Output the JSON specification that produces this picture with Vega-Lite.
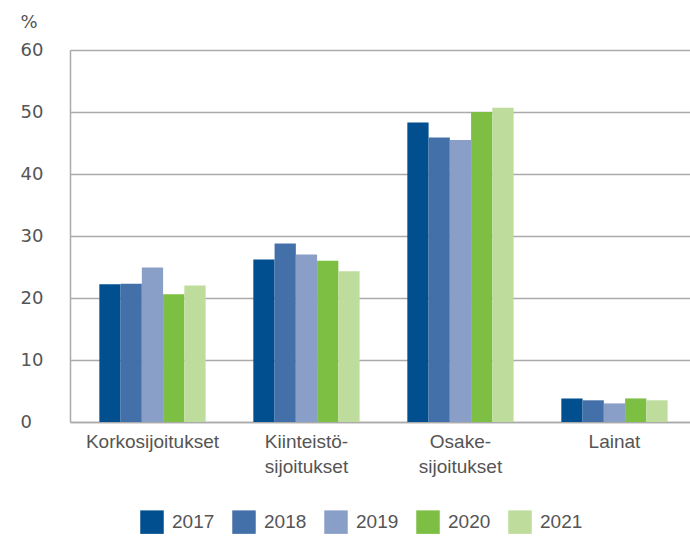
{
  "$schema": "https://vega.github.io/schema/vega-lite/v6.json",
  "autosize": {"type": "none"},
  "width": 620,
  "height": 372,
  "padding": {"left": 70, "top": 50, "right": 0, "bottom": 114},
  "background": "white",
  "data": {
    "values": [
      {"cat": "Korkosijoitukset", "year": "2017", "value": 22.2},
      {"cat": "Korkosijoitukset", "year": "2018", "value": 22.3},
      {"cat": "Korkosijoitukset", "year": "2019", "value": 24.9},
      {"cat": "Korkosijoitukset", "year": "2020", "value": 20.6},
      {"cat": "Korkosijoitukset", "year": "2021", "value": 22.0},
      {"cat": "Kiinteistö-sijoitukset", "year": "2017", "value": 26.2},
      {"cat": "Kiinteistö-sijoitukset", "year": "2018", "value": 28.8},
      {"cat": "Kiinteistö-sijoitukset", "year": "2019", "value": 27.0},
      {"cat": "Kiinteistö-sijoitukset", "year": "2020", "value": 26.0},
      {"cat": "Kiinteistö-sijoitukset", "year": "2021", "value": 24.3},
      {"cat": "Osake-sijoitukset", "year": "2017", "value": 48.3},
      {"cat": "Osake-sijoitukset", "year": "2018", "value": 45.9},
      {"cat": "Osake-sijoitukset", "year": "2019", "value": 45.5},
      {"cat": "Osake-sijoitukset", "year": "2020", "value": 50.0},
      {"cat": "Osake-sijoitukset", "year": "2021", "value": 50.7},
      {"cat": "Lainat", "year": "2017", "value": 3.8},
      {"cat": "Lainat", "year": "2018", "value": 3.5},
      {"cat": "Lainat", "year": "2019", "value": 3.0},
      {"cat": "Lainat", "year": "2020", "value": 3.8},
      {"cat": "Lainat", "year": "2021", "value": 3.5}
    ]
  },
  "mark": {"type": "bar"},
  "encoding": {
    "x": {
      "field": "cat",
      "type": "nominal",
      "sort": null,
      "scale": {"paddingInner": 0.31, "paddingOuter": 0.168, "align": 0.567},
      "axis": {
        "title": null,
        "labelAngle": 0,
        "ticks": false,
        "tickSize": 0,
        "labelPadding": 10,
        "labelBaseline": "top",
        "labelFont": "Liberation Sans",
        "labelFontSize": 19,
        "labelColor": "#555555",
        "labelLineHeight": 25,
        "labelLimit": 300,
        "labelExpr": "indexof(datum.value, '-') > 0 ? [slice(datum.value, 0, indexof(datum.value, '-') + 1), slice(datum.value, indexof(datum.value, '-') + 1)] : datum.value",
        "domainColor": "#aaaaaa",
        "domainWidth": 1.5,
        "grid": false
      }
    },
    "xOffset": {
      "field": "year",
      "type": "nominal",
      "scale": {"paddingInner": 0, "paddingOuter": 0}
    },
    "y": {
      "field": "value",
      "type": "quantitative",
      "scale": {"domain": [0, 60]},
      "axis": {
        "title": "%",
        "titleAngle": 0,
        "titleX": -50,
        "titleY": -23,
        "titleAlign": "left",
        "titleBaseline": "alphabetic",
        "titleFont": "DejaVu Sans",
        "titleFontSize": 18,
        "titleFontWeight": "normal",
        "titleColor": "#555555",
        "values": [0, 10, 20, 30, 40, 50, 60],
        "ticks": false,
        "tickSize": 0,
        "labelAlign": "left",
        "labelPadding": 50,
        "labelFont": "DejaVu Sans",
        "labelFontSize": 18,
        "labelColor": "#555555",
        "domainColor": "#aaaaaa",
        "domainWidth": 1.5,
        "gridColor": "#aaaaaa",
        "gridWidth": 1.5
      }
    },
    "color": {
      "field": "year",
      "type": "nominal",
      "scale": {
        "domain": ["2017", "2018", "2019", "2020", "2021"],
        "range": ["#014f8f", "#4470aa", "#8a9fc8", "#7cbf42", "#bedc9b"]
      },
      "legend": {
        "title": null,
        "orient": "none",
        "direction": "horizontal",
        "legendX": 70,
        "legendY": 460,
        "padding": 0,
        "symbolType": "square",
        "symbolSize": 552,
        "symbolStrokeWidth": 0,
        "symbolOpacity": 1,
        "labelOffset": 8,
        "columnPadding": 17,
        "labelFont": "Liberation Sans",
        "labelFontSize": 19,
        "labelColor": "#555555"
      }
    }
  },
  "config": {
    "view": {"stroke": null}
  }
}
